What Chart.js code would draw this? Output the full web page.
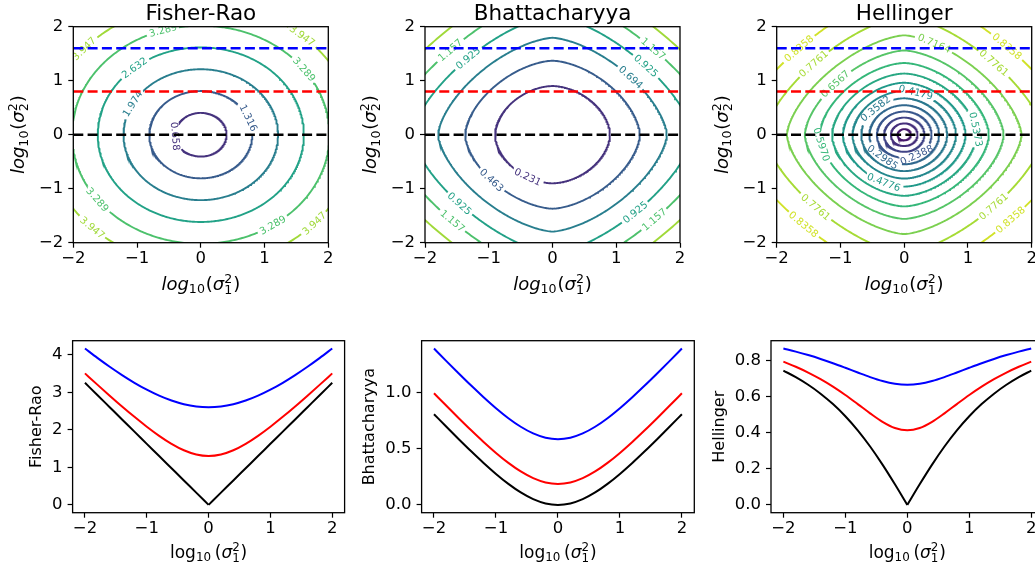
<!DOCTYPE html>
<html>
<head>
<meta charset="utf-8">
<script src="https://cdn.jsdelivr.net/npm/chart.js@4.4.1/dist/chart.umd.min.js"></script>
<style>
  html, body { margin: 0; padding: 0; width: 1035px; height: 571px; overflow: hidden; background: #fff; }
  canvas { position: absolute; }
</style>
</head>
<body>
<canvas id="frMap"></canvas>
<canvas id="bhMap"></canvas>
<canvas id="hlMap"></canvas>
<canvas id="frCurve"></canvas>
<canvas id="bhCurve"></canvas>
<canvas id="hlCurve"></canvas>
<script>
// log10(sigma1^2) positions of the profile samples
const logVar = [-2, -1.8, -1.6, -1.4, -1.2, -1, -0.8, -0.6, -0.4, -0.2, 0,
                0.2, 0.4, 0.6, 0.8, 1, 1.2, 1.4, 1.6, 1.8, 2];

// profiles along log10(sigma2^2) = 0 (black), 0.8 (red), 1.6 (blue)
const frBlack = [3.256, 2.931, 2.605, 2.279, 1.954, 1.628, 1.303, 0.977, 0.651, 0.326, 0,
                 0.326, 0.651, 0.977, 1.303, 1.628, 1.954, 2.279, 2.605, 2.931, 3.256];
const frRed = [3.507, 3.207, 2.913, 2.625, 2.348, 2.085, 1.842, 1.628, 1.456, 1.343, 1.303,
               1.343, 1.456, 1.628, 1.842, 2.085, 2.348, 2.625, 2.913, 3.207, 3.507];
const frBlue = [4.170, 3.921, 3.684, 3.462, 3.256, 3.072, 2.913, 2.782, 2.685, 2.625, 2.605,
                2.625, 2.685, 2.782, 2.913, 3.072, 3.256, 3.462, 3.684, 3.921, 4.170];

const bhBlack = [0.8097, 0.6975, 0.5869, 0.4789, 0.3748, 0.2767, 0.1875, 0.1109, 0.0512, 0.0131, 0,
                 0.0131, 0.0512, 0.1109, 0.1875, 0.2767, 0.3748, 0.4789, 0.5869, 0.6975, 0.8097];
const bhRed = [0.9972, 0.8850, 0.7744, 0.6664, 0.5623, 0.4642, 0.3750, 0.2984, 0.2387, 0.2006, 0.1875,
               0.2006, 0.2387, 0.2984, 0.3750, 0.4642, 0.5623, 0.6664, 0.7744, 0.8850, 0.9972];
const bhBlue = [1.3966, 1.2843, 1.1737, 1.0657, 0.9617, 0.8636, 0.7744, 0.6977, 0.6381, 0.6000, 0.5869,
                0.6000, 0.6381, 0.6977, 0.7744, 0.8636, 0.9617, 1.0657, 1.1737, 1.2843, 1.3966];

const hlBlack = [0.7450, 0.7086, 0.6663, 0.6169, 0.5591, 0.4917, 0.4135, 0.3239, 0.2235, 0.1143, 0,
                 0.1143, 0.2235, 0.3239, 0.4135, 0.4917, 0.5591, 0.6169, 0.6663, 0.7086, 0.7450];
const hlRed = [0.7944, 0.7663, 0.7342, 0.6974, 0.6558, 0.6094, 0.5592, 0.5079, 0.4609, 0.4264, 0.4135,
               0.4264, 0.4609, 0.5079, 0.5592, 0.6094, 0.6558, 0.6974, 0.7342, 0.7663, 0.7944];
const hlBlue = [0.8675, 0.8504, 0.8311, 0.8096, 0.7860, 0.7605, 0.7342, 0.7087, 0.6868, 0.6717, 0.6663,
                0.6717, 0.6868, 0.7087, 0.7342, 0.7605, 0.7860, 0.8096, 0.8311, 0.8504, 0.8675];

// horizontal cuts drawn on the maps
const guideLevels = [0, 0.8, 1.6];
const guideColors = ['#000000', '#ff0000', '#0000ff'];

// tick positions
const mapTicks = [-2, -1, 0, 1, 2];
const curveTicksX = [-2, -1, 0, 1, 2];
const frTicksY = [0, 1, 2, 3, 4];
const bhTicksY = [0, 0.5, 1.0];
const hlTicksY = [0, 0.2, 0.4, 0.6, 0.8];

// contour levels, where each crosses an axis and the diagonal, and the top of the colour range
const frLevels = [0.658, 1.316, 1.974, 2.632, 3.289, 3.947];
const frAxisCut = [0.404, 0.808, 1.212, 1.616, 2.020, 2.424];
const frDiagCut = [0.286, 0.571, 0.857, 1.143, 1.429, 1.714];
const frTop = 4.605;

const bhLevels = [0.231, 0.463, 0.694, 0.925, 1.157, 1.388];
const bhAxisCut = [0.901, 1.370, 1.794, 2.204, 2.609, 3.013];
const bhDiagCut = [0.614, 0.901, 1.145, 1.370, 1.584, 1.794];
const bhTop = 1.619;

const hlLevels = [0.0597, 0.1194, 0.1791, 0.2388, 0.2985, 0.3582, 0.4179,
                  0.4776, 0.5373, 0.5970, 0.6567, 0.7164, 0.7761, 0.8358];
const hlAxisCut = [0.104, 0.209, 0.317, 0.429, 0.547, 0.674, 0.811,
                   0.962, 1.132, 1.328, 1.559, 1.840, 2.199, 2.684];
const hlDiagCut = [0.073, 0.148, 0.223, 0.301, 0.381, 0.466, 0.556,
                   0.652, 0.758, 0.876, 1.012, 1.171, 1.367, 1.623];
const hlTop = 0.8955;

// inline labels: [contour index, direction in degrees]
const frLabelAt = [[0, 184], [1, 22.6], [2, 151.8], [3, 130], [4, 107], [4, 36.7], [4, 216.6], [4, -56],
                   [5, 139], [5, 49], [5, 225.4], [5, -42.7]];
const bhLabelAt = [[0, 243.7], [1, 221.4], [2, 40.9], [3, 133], [3, 41], [3, 221.2], [3, -47.9],
                   [4, 135.7], [4, 45.2], [4, 225.5], [4, -44.5]];
const hlLabelAt = [[3, -62.5], [4, 231], [5, 133], [6, 77], [7, 250], [8, 5], [9, 188], [10, 139],
                   [11, 74.4], [12, 137.3], [12, 43.4], [12, 224], [12, -43.5],
                   [13, 136], [13, 45.4], [13, 226.5], [13, -43.4]];

const FONT = '"DejaVu Sans"';
const LABEL_FONT = '10px ' + FONT;
Chart.defaults.font.family = FONT;
Chart.defaults.color = '#000';

const VIRIDIS = [
  [0.0, '#440154'], [0.111, '#482878'], [0.222, '#3e4a89'], [0.25, '#3b528b'], [0.333, '#31688e'],
  [0.444, '#26828e'], [0.5, '#21918c'], [0.556, '#1f9e89'], [0.667, '#35b779'], [0.75, '#5ec962'],
  [0.778, '#6dcd59'], [0.889, '#b4de2c'], [1.0, '#fde725']
];

function viridis(t) {
  const hex = h => [1, 3, 5].map(i => parseInt(h.slice(i, i + 2), 16));
  for (let i = 1; i < VIRIDIS.length; i++) {
    const [p1, c1] = VIRIDIS[i];
    if (t <= p1) {
      const [p0, c0] = VIRIDIS[i - 1];
      const f = (t - p0) / (p1 - p0);
      const a = hex(c0), b = hex(c1);
      return 'rgb(' + a.map((v, k) => Math.round(v + (b[k] - v) * f)).join(',') + ')';
    }
  }
  return VIRIDIS[VIRIDIS.length - 1][1];
}

function contourSet(levels, axisCut, diagCut, top) {
  return levels.map((level, i) => ({
    level,
    a: axisCut[i],
    p: Math.LN2 / Math.log(axisCut[i] / diagCut[i]),
    color: viridis(level / top)
  }));
}

// distance from the origin to a contour in direction th
function radiusAt(c, th) {
  const s = Math.pow(Math.abs(Math.cos(th)), c.p) + Math.pow(Math.abs(Math.sin(th)), c.p);
  return c.a * Math.pow(s, -1 / c.p);
}

function contourPath(c) {
  const pts = [];
  const n = 480;
  for (let i = 0; i <= n; i++) {
    const th = (i / n) * 2 * Math.PI;
    const r = radiusAt(c, th);
    pts.push({x: r * Math.cos(th), y: r * Math.sin(th)});
  }
  return pts;
}

// hide the part of a contour that sits under one of its labels
function inGap(ctx) {
  const chart = ctx.chart;
  const gaps = chart.$gaps;
  if (!gaps) return false;
  const ci = chart.data.datasets[ctx.datasetIndex].ci;
  const mx = (ctx.p0.x + ctx.p1.x) / 2, my = (ctx.p0.y + ctx.p1.y) / 2;
  return gaps.some(g => {
    if (g.ci !== ci) return false;
    const dx = mx - g.px, dy = my - g.py;
    const u = dx * Math.cos(g.phi) + dy * Math.sin(g.phi);
    const v = -dx * Math.sin(g.phi) + dy * Math.cos(g.phi);
    return Math.abs(u) < g.hw && Math.abs(v) < g.hh;
  });
}

function mathLabel(italicLog, idx) {
  const runs = [{t: 'log', it: italicLog}, {t: '10', sub: true}];
  if (!italicLog) runs.push({gap: 0.17});
  runs.push({t: '('}, {t: 'σ', it: true}, {stack: [idx, '2']}, {t: ')'});
  return runs;
}

function drawRuns(ctx, runs, size, x, y, vertical) {
  const small = size * 0.7;
  const font = (it, s) => (it ? 'italic ' : '') + s + 'px ' + FONT;
  const measure = (txt, it, s) => { ctx.font = font(it, s); return ctx.measureText(txt).width; };
  const widths = runs.map(r => {
    if (r.gap) return r.gap * size;
    if (r.stack) return Math.max(measure(r.stack[0], false, small), measure(r.stack[1], false, small)) + 0.05 * size;
    return measure(r.t, r.it, r.sub ? small : size) + (r.sub ? 0.05 * size : 0);
  });
  const total = widths.reduce((s, w) => s + w, 0);
  ctx.save();
  ctx.translate(x, y);
  if (vertical) ctx.rotate(-Math.PI / 2);
  ctx.textAlign = 'left';
  ctx.textBaseline = 'alphabetic';
  ctx.fillStyle = '#000';
  let cx = -total / 2;
  runs.forEach((r, i) => {
    if (r.stack) {
      ctx.font = font(false, small);
      ctx.fillText(r.stack[0], cx, 0.22 * size);
      ctx.fillText(r.stack[1], cx, -0.4 * size);
    } else if (r.t) {
      ctx.font = font(r.it, r.sub ? small : size);
      ctx.fillText(r.t, cx, r.sub ? 0.2 * size : 0);
    }
    cx += widths[i];
  });
  ctx.restore();
}

const specs = {};

const decor = {
  id: 'decor',
  afterLayout(chart) {
    const spec = specs[chart.canvas.id];
    if (!spec.labels) return;
    const xs = chart.scales.x, ys = chart.scales.y, ctx = chart.ctx;
    ctx.save();
    ctx.font = LABEL_FONT;
    chart.$gaps = spec.labels.map(([ci, deg]) => {
      const c = spec.contours[ci];
      const at = th => {
        const r = radiusAt(c, th);
        return [xs.getPixelForValue(r * Math.cos(th)), ys.getPixelForValue(r * Math.sin(th))];
      };
      const th = deg * Math.PI / 180;
      const [px, py] = at(th);
      const [ax, ay] = at(th - 0.01);
      const [bx, by] = at(th + 0.01);
      let phi = Math.atan2(by - ay, bx - ax);
      if (phi > Math.PI / 2) phi -= Math.PI;
      if (phi <= -Math.PI / 2) phi += Math.PI;
      const text = c.level.toFixed(spec.digits);
      return {ci, px, py, phi, text, color: c.color, hw: ctx.measureText(text).width / 2 + 2.5, hh: 5.5};
    });
    ctx.restore();
  },
  beforeDatasetsDraw(chart) {
    chart.$labelsDrawn = false;
  },
  beforeDatasetDraw(chart, args) {
    const ds = chart.data.datasets[args.index];
    if (!ds.guide || !chart.$gaps || chart.$labelsDrawn) return;
    chart.$labelsDrawn = true;
    const ctx = chart.ctx, area = chart.chartArea;
    ctx.save();
    ctx.beginPath();
    ctx.rect(area.left, area.top, area.right - area.left, area.bottom - area.top);
    ctx.clip();
    ctx.font = LABEL_FONT;
    ctx.textAlign = 'center';
    ctx.textBaseline = 'middle';
    chart.$gaps.forEach(g => {
      ctx.save();
      ctx.translate(g.px, g.py);
      ctx.rotate(g.phi);
      ctx.fillStyle = g.color;
      ctx.fillText(g.text, 0, 0.5);
      ctx.restore();
    });
    ctx.restore();
  },
  afterDraw(chart) {
    const spec = specs[chart.canvas.id];
    const ctx = chart.ctx, a = chart.chartArea;
    const cx = (a.left + a.right) / 2, cy = (a.top + a.bottom) / 2;
    ctx.save();
    ctx.strokeStyle = '#000';
    ctx.lineWidth = 1.3;
    ctx.strokeRect(a.left, a.top, a.right - a.left, a.bottom - a.top);
    ctx.fillStyle = '#000';
    if (spec.kind === 'map') {
      ctx.font = '21.5px ' + FONT;
      ctx.textAlign = 'center';
      ctx.textBaseline = 'alphabetic';
      ctx.fillText(spec.title, cx, a.top - 7);
      drawRuns(ctx, mathLabel(true, '1'), 18, cx, a.bottom + 47, false);
      drawRuns(ctx, mathLabel(true, '2'), 18, a.left - 49, cy, true);
    } else {
      drawRuns(ctx, mathLabel(false, '1'), 17, cx, a.bottom + 45.3, false);
      ctx.translate(a.left - spec.yOff, cy);
      ctx.rotate(-Math.PI / 2);
      ctx.font = '16px ' + FONT;
      ctx.textAlign = 'center';
      ctx.textBaseline = 'alphabetic';
      ctx.fillText(spec.yName, 0, 0);
    }
    ctx.restore();
  }
};

// size a canvas so that its plot area lands on the given page box
function place(id, box) {
  const L = Math.floor(box.l) - 90, T = Math.floor(box.t) - 32;
  const W = Math.ceil(box.r) + 34 - L, H = Math.ceil(box.b) + 64 - T;
  const c = document.getElementById(id);
  c.width = W;
  c.height = H;
  c.style.left = L + 'px';
  c.style.top = T + 'px';
  c.style.width = W + 'px';
  c.style.height = H + 'px';
  return {yW: box.l - L, padTop: box.t - T, padRight: W - (box.r - L), xH: H - (box.b - T)};
}

function axis(min, max, ticks, fmt, isX, size) {
  return {
    type: 'linear',
    min, max,
    afterBuildTicks: s => { s.ticks = ticks.map(v => ({value: v})); },
    afterFit: s => { if (isX) s.height = size; else s.width = size; },
    ticks: {
      autoSkip: false, maxRotation: 0, padding: isX ? 1.5 : 5, color: '#000',
      font: {size: 16.5, family: FONT},
      callback: v => fmt(v).replace('-', '\u2212')
    },
    grid: {drawOnChartArea: false, drawTicks: true, tickLength: 5, tickColor: '#000', tickWidth: 1.2},
    border: {display: false}
  };
}

function baseOptions(geo, xAxis, yAxis) {
  return {
    responsive: false,
    animation: false,
    devicePixelRatio: 1,
    events: [],
    layout: {padding: {left: 0, top: geo.padTop, right: geo.padRight, bottom: 0}},
    plugins: {legend: {display: false}, tooltip: {enabled: false}},
    scales: {x: xAxis, y: yAxis}
  };
}

function mapChart(id, box, title, contours, labels, digits) {
  specs[id] = {kind: 'map', title, contours, labels, digits};
  const geo = place(id, box);
  const lo = mapTicks[0], hi = mapTicks[mapTicks.length - 1];
  const datasets = guideLevels.map((y, i) => ({
    data: [{x: lo, y}, {x: hi, y}],
    borderColor: guideColors[i], borderWidth: 2.6, borderDash: [10, 4.3],
    guide: true, order: 0
  }));
  contours.forEach((c, ci) => datasets.push({
    data: contourPath(c),
    borderColor: c.color, borderWidth: 1.9, ci, order: 1,
    segment: {borderColor: ctx => (inGap(ctx) ? 'rgba(0,0,0,0)' : undefined)}
  }));
  datasets.forEach(d => Object.assign(d, {showLine: true, pointRadius: 0, tension: 0}));
  const str = v => String(v);
  return new Chart(document.getElementById(id), {
    type: 'scatter',
    data: {datasets},
    options: baseOptions(geo, axis(lo, hi, mapTicks, str, true, geo.xH), axis(lo, hi, mapTicks, str, false, geo.yW)),
    plugins: [decor]
  });
}

function curveChart(id, box, yName, yOff, black, red, blue, yTicks, fmt, cusp) {
  specs[id] = {kind: 'curve', yName, yOff};
  const geo = place(id, box);
  const all = black.concat(red, blue);
  const lo = Math.min(...all), hi = Math.max(...all), m = 0.05 * (hi - lo);
  const x0 = logVar[0], x1 = logVar[logVar.length - 1], xm = 0.05 * (x1 - x0);
  const pts = arr => logVar.map((x, i) => ({x, y: arr[i]}));
  const blackPts = pts(black), mid = logVar.indexOf(0);
  const datasets = [
    {data: pts(blue), borderColor: '#0000ff'},
    {data: pts(red), borderColor: '#ff0000'}
  ];
  if (cusp) {
    datasets.push({data: blackPts.slice(0, mid + 1), borderColor: '#000000'},
                  {data: blackPts.slice(mid), borderColor: '#000000'});
  } else {
    datasets.push({data: blackPts, borderColor: '#000000'});
  }
  datasets.forEach(d => Object.assign(d, {borderWidth: 2, pointRadius: 0, cubicInterpolationMode: 'monotone', fill: false}));
  return new Chart(document.getElementById(id), {
    type: 'line',
    data: {datasets},
    options: baseOptions(geo,
      axis(x0 - xm, x1 + xm, curveTicksX, v => String(v), true, geo.xH),
      axis(lo - m, hi + m, yTicks, fmt, false, geo.yW)),
    plugins: [decor]
  });
}

const rowTop = {t: 26.7, b: 242.7};
const rowBottom = {t: 340.7, b: 512.7};

mapChart('frMap', {l: 73.3, r: 328.3, ...rowTop}, 'Fisher-Rao',
  contourSet(frLevels, frAxisCut, frDiagCut, frTop), frLabelAt, 3);
mapChart('bhMap', {l: 425, r: 680, ...rowTop}, 'Bhattacharyya',
  contourSet(bhLevels, bhAxisCut, bhDiagCut, bhTop), bhLabelAt, 3);
mapChart('hlMap', {l: 776.7, r: 1031.7, ...rowTop}, 'Hellinger',
  contourSet(hlLevels, hlAxisCut, hlDiagCut, hlTop), hlLabelAt, 4);

curveChart('frCurve', {l: 72.6, r: 344.6, ...rowBottom}, 'Fisher-Rao', 31.5,
  frBlack, frRed, frBlue, frTicksY, v => String(v), true);
curveChart('bhCurve', {l: 421.6, r: 694.3, ...rowBottom}, 'Bhattacharyya', 47.2,
  bhBlack, bhRed, bhBlue, bhTicksY, v => v.toFixed(1), false);
curveChart('hlCurve', {l: 771, r: 1043.6, ...rowBottom}, 'Hellinger', 46.6,
  hlBlack, hlRed, hlBlue, hlTicksY, v => v.toFixed(1), true);
</script>
</body>
</html>
